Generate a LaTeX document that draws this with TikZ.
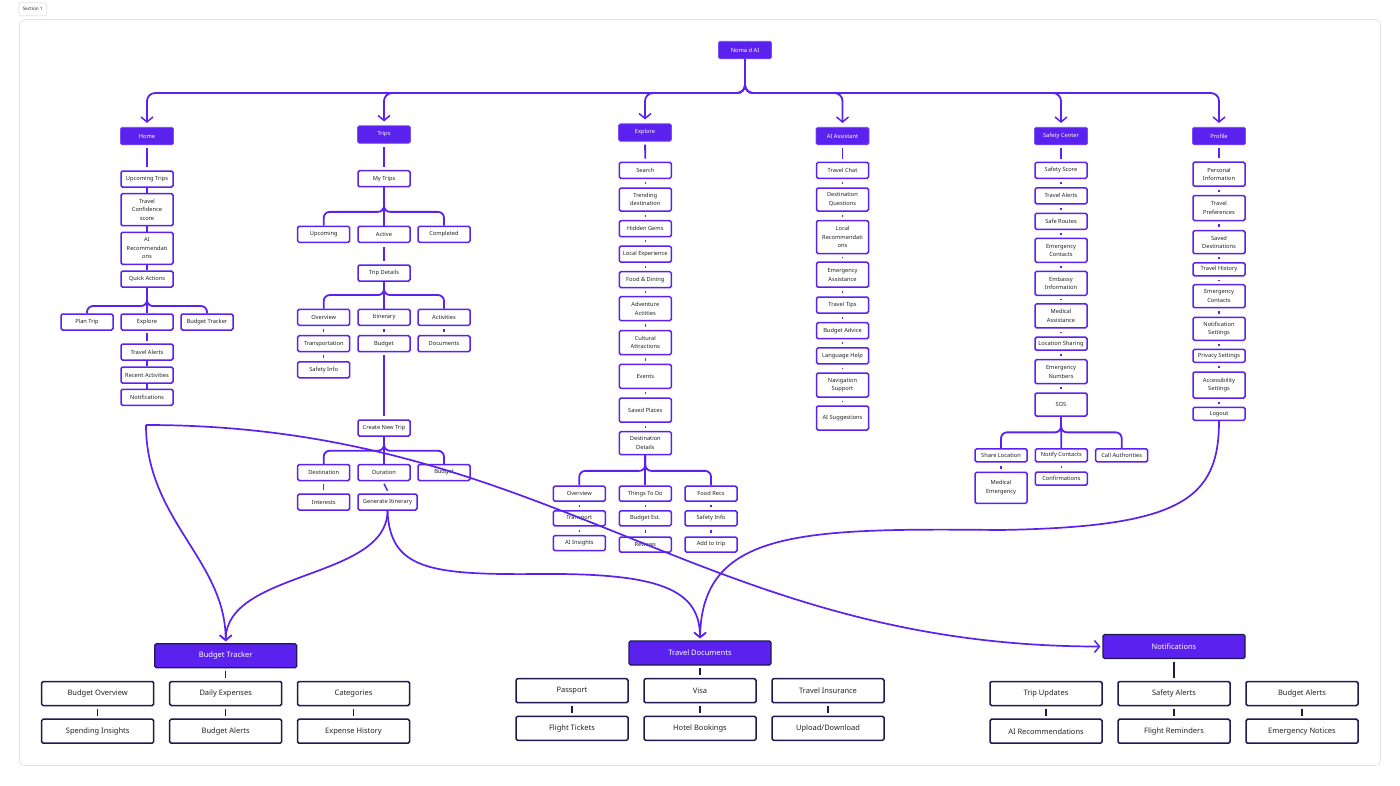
\documentclass[tikz,border=0pt]{standalone}
\usepackage{fontspec}
\setmainfont{Noto Sans}
\usetikzlibrary{arrows.meta}
\definecolor{pur}{HTML}{5B21EE}
\definecolor{purl}{HTML}{7A4DF5}
\definecolor{navy}{HTML}{1E1A4F}
\definecolor{txt}{HTML}{222222}
\definecolor{framec}{HTML}{E2E2E2}
\tikzset{
 hdr/.style={fill=pur, draw=purl, line width=0.6pt, rounded corners=1.5pt, text=white, font=\fontsize{5.7}{8.6}\selectfont, minimum width=53pt, minimum height=17.5pt, inner sep=0pt},
 sub/.style={fill=white, draw=pur, line width=1.5pt, rounded corners=1.5pt, text=txt, font=\fontsize{5.7}{8.6}\selectfont, align=center, minimum width=52pt, minimum height=16pt, inner sep=0pt},
 mh/.style={minimum height=#1pt},
 mw/.style={minimum width=#1pt},
 bhdr/.style={fill=pur, draw=navy, line width=1.2pt, rounded corners=1.5pt, text=white, font=\fontsize{7.5}{9}\selectfont, minimum width=142pt, minimum height=24pt, inner sep=0pt},
 bsub/.style={fill=white, draw=navy, line width=1.5pt, rounded corners=1.5pt, text=txt, font=\fontsize{7.5}{9}\selectfont, minimum width=112pt, minimum height=24pt, inner sep=0pt},
 tree/.style={draw=pur, line width=1.8pt},
 link/.style={draw=pur, line width=1.5pt, shorten <=#1, shorten >=#1},
 link/.default=3pt,
 blink/.style={draw=navy, line width=1.5pt, shorten <=2.5pt, shorten >=2.5pt},
 arr/.style={-{Straight Barb[length=5pt,width=12pt,line width=1.5pt]}},
 curve/.style={draw=pur, line width=1.7pt, arr},
}
\begin{document}
\begin{tikzpicture}[x=1pt,y=-1pt]
\fill[white] (0,0) rectangle (1400,785);
\useasboundingbox (0,0) rectangle (1400,785);
\draw[framec, line width=0.8pt, rounded corners=5pt] (19.5,19.5) rectangle (1380.5,765.5);
\node[draw=framec, line width=0.6pt, fill=white, rounded corners=1.5pt, text=txt, font=\fontsize{4.6}{5}\selectfont, minimum width=28pt, minimum height=13pt, inner sep=0pt] (sec) at (32.7,9.2) {Section 1};

% headers
\node[hdr] (noma) at (745,50) {Noma d AI};
\node[hdr] (home) at (147,136) {Home};
\node[hdr] (trips) at (384,134.5) {Trips};
\node[hdr] (explore) at (645,132.5) {Explore};
\node[hdr] (ai) at (842.5,136) {AI Assistant};
\node[hdr] (safety) at (1061,136) {Safety Center};
\node[hdr] (profile) at (1219,136) {Profile};

% Home column
\node[sub] (h1) at (147,179) {Upcoming Trips};
\node[sub,mh=32] (h2) at (147,209.7) {Travel\\Confidence\\score};
\node[sub,mh=32] (h3) at (147,248.3) {AI\\Recommendati\\ons};
\node[sub] (h4) at (147,279) {Quick Actions};
\node[sub] (h5) at (87,322) {Plan Trip};
\node[sub] (h6) at (147,322) {Explore};
\node[sub] (h7) at (207,322) {Budget Tracker};
\node[sub] (h8) at (147,352) {Travel Alerts};
\node[sub] (h9) at (147,375) {Recent Activities};
\node[sub] (h10) at (147,397.3) {Notifications};

% Trips column
\node[sub] (t1) at (384,178.7) {My Trips};
\node[sub] (t2) at (323.7,234.3) {Upcoming};
\node[sub] (t3) at (384,234.3) {Active};
\node[sub] (t4) at (444,234.3) {Completed};
\node[sub] (t5) at (384,273) {Trip Details};
\node[sub] (t6) at (323.7,317.3) {Overview};
\node[sub] (t7) at (384,317.3) {Itinerary};
\node[sub] (t8) at (444,317.3) {Activities};
\node[sub] (t9) at (323.7,343.7) {Transportation};
\node[sub] (t10) at (384,343.7) {Budget};
\node[sub] (t11) at (444,343.7) {Documents};
\node[sub] (t12) at (323.7,369.8) {Safety Info};
\node[sub] (t13) at (384,428) {Create New Trip};
\node[sub] (t14) at (323.7,472.5) {Destination};
\node[sub] (t15) at (384,472.5) {Duration};
\node[sub] (t16) at (444,472.5) {Budget};
\node[sub] (t17) at (323.7,502) {Interests};
\node[sub,mw=59] (t18) at (387.5,502) {Generate Itinerary};

% Explore column
\node[sub] (e1) at (645.3,170.3) {Search};
\node[sub,mh=23] (e2) at (645.3,199.5) {Trending\\destination};
\node[sub] (e3) at (645.3,228.7) {Hidden Gems};
\node[sub] (e4) at (645.3,254.2) {Local Experience};
\node[sub] (e5) at (645.3,279.7) {Food \& Dining};
\node[sub,mh=24] (e6) at (645.3,308.7) {Adventure\\Actiities};
\node[sub,mh=24] (e7) at (645.3,342.5) {Cultural\\Attractions};
\node[sub,mh=24] (e8) at (645.3,376.3) {Events};
\node[sub,mh=24] (e9) at (645.3,410.2) {Saved Places};
\node[sub,mh=23] (e10) at (645.3,443.2) {Destination\\Details};
\node[sub,mh=15] (e11) at (579.3,493.7) {Overview};
\node[sub,mh=15] (e12) at (645.3,493.7) {Things To Do};
\node[sub,mh=15] (e13) at (711,493.7) {Food Recs};
\node[sub,mh=15] (e14) at (579.3,518.3) {Transport};
\node[sub,mh=15] (e15) at (645.3,518.3) {Budget Est.};
\node[sub,mh=15] (e16) at (711,518.3) {Safety Info};
\node[sub,mh=15] (e17) at (579.3,543) {AI Insights};
\node[sub,mh=15] (e18) at (645.3,544.5) {Reviews};
\node[sub,mh=15] (e19) at (711,544.5) {Add to trip};

% AI Assistant column
\node[sub] (a1) at (842.5,170.3) {Travel Chat};
\node[sub,mh=23] (a2) at (842.5,199.5) {Destination\\Questions};
\node[sub,mh=33] (a3) at (842.5,237) {Local\\Recommendati\\ons};
\node[sub,mh=25] (a4) at (842.5,274.7) {Emergency\\Assistance};
\node[sub] (a5) at (842.5,305) {Travel Tips};
\node[sub] (a6) at (842.5,330.7) {Budget Advice};
\node[sub] (a7) at (842.5,355.8) {Language Help};
\node[sub,mh=24] (a8) at (842.5,385) {Navigation\\Support};
\node[sub,mh=24] (a9) at (842.5,418) {AI Suggestions};

% Safety Center column
\node[sub] (s1) at (1061,170.3) {Safety Score};
\node[sub] (s2) at (1061,195.8) {Travel Alerts};
\node[sub] (s3) at (1061,221.3) {Safe Routes};
\node[sub,mh=24] (s4) at (1061,250.3) {Emergency\\Contacts};
\node[sub,mh=24] (s5) at (1061,283.3) {Embassy\\Information};
\node[sub,mh=24] (s6) at (1061,315.8) {Medical\\Assistance};
\node[sub,mh=13] (s7) at (1061,343.7) {Location Sharing};
\node[sub,mh=24] (s8) at (1061,371.7) {Emergency\\Numbers};
\node[sub,mh=23] (s9) at (1061,404.5) {SOS};
\node[sub,mh=13] (s10) at (1001,455.3) {Share Location};
\node[sub,mh=13] (s11) at (1061.3,455.3) {Notify Contacts};
\node[sub,mh=13] (s12) at (1121.7,455.3) {Call Authorities};
\node[sub,mh=31] (s13) at (1001,487.8) {Medical\\Emergency};
\node[sub,mh=13] (s14) at (1061.3,478.7) {Confirmations};

% Profile column
\node[sub,mh=24] (p1) at (1219,174.2) {Personal\\Information};
\node[sub,mh=25] (p2) at (1219,208) {Travel\\Preferences};
\node[sub,mh=23] (p3) at (1219,242.2) {Saved\\Destinations};
\node[sub,mh=13] (p4) at (1219,269.3) {Travel History};
\node[sub,mh=23] (p5) at (1219,296.2) {Emergency\\Contacts};
\node[sub,mh=23] (p6) at (1219,328.8) {Notification\\Settings};
\node[sub,mh=13] (p7) at (1219,355.8) {Privacy Settings};
\node[sub,mh=26] (p8) at (1219,385) {Accessibility\\Settings};
\node[sub,mh=13] (p9) at (1219,413.8) {Logout};

% Bottom sections
\node[bhdr] (bt) at (225.7,655.8) {Budget Tracker};
\node[bsub] (bt1) at (97.7,693.5) {Budget Overview};
\node[bsub] (bt2) at (225.7,693.5) {Daily Expenses};
\node[bsub] (bt3) at (353.5,693.5) {Categories};
\node[bsub] (bt4) at (97.7,731.2) {Spending Insights};
\node[bsub] (bt5) at (225.7,731.2) {Budget Alerts};
\node[bsub] (bt6) at (353.5,731.2) {Expense History};

\node[bhdr] (td) at (700,653) {Travel Documents};
\node[bsub] (td1) at (572,690.7) {Passport};
\node[bsub] (td2) at (700,690.7) {Visa};
\node[bsub] (td3) at (828,690.7) {Travel Insurance};
\node[bsub] (td4) at (572,728.3) {Flight Tickets};
\node[bsub] (td5) at (700,728.3) {Hotel Bookings};
\node[bsub] (td6) at (828,728.3) {Upload/Download};

\node[bhdr] (nt) at (1174,646.5) {Notifications};
\node[bsub] (nt1) at (1046,693.5) {Trip Updates};
\node[bsub] (nt2) at (1174,693.5) {Safety Alerts};
\node[bsub] (nt3) at (1302,693.5) {Budget Alerts};
\node[bsub] (nt4) at (1046,731.2) {AI Recommendations};
\node[bsub] (nt5) at (1174,731.2) {Flight Reminders};
\node[bsub] (nt6) at (1302,731.2) {Emergency Notices};

% top level connectors
\foreach \t in {home,trips,explore,ai,safety,profile}
  \draw[tree,arr,rounded corners=8pt] (noma.south) -- ++(0,34) -| ([yshift=4pt]\t.north);

% header to first child
\foreach \a/\b in {home/h1,trips/t1,explore/e1,ai/a1,safety/s1,profile/p1}
  \draw[tree, shorten <=3pt, shorten >=3pt] (\a) -- (\b);

% Home
\foreach \a/\b in {h1/h2,h2/h3,h3/h4,h8/h9,h9/h10}
  \draw[link=0pt] (\a) -- (\b);
\draw[link=2.5pt] (h6) -- (h8);
\draw[tree] (h4.south) -- (h6.north);
\draw[tree,rounded corners=6pt] (h4.south) -- ++(0,18.3) -| (h5.north);
\draw[tree,rounded corners=6pt] (h4.south) -- ++(0,18.3) -| (h7.north);

% Trips
\draw[tree] (t1.south) -- (t3.north);
\draw[tree,rounded corners=6pt] (t1.south) -- ++(0,24.4) -| (t2.north);
\draw[tree,rounded corners=6pt] (t1.south) -- ++(0,24.4) -| (t4.north);
\draw[tree, shorten <=3.5pt, shorten >=3.5pt] (t3) -- (t5);
\draw[tree] (t5.south) -- (t7.north);
\draw[tree,rounded corners=6pt] (t5.south) -- ++(0,13.3) -| (t6.north);
\draw[tree,rounded corners=6pt] (t5.south) -- ++(0,13.3) -| (t8.north);
\foreach \a/\b in {t6/t9,t9/t12,t7/t10,t8/t11,t14/t17}
  \draw[link] (\a) -- (\b);
\draw[tree, shorten <=3pt, shorten >=3pt] (t10) -- (t13);
\draw[tree] (t13.south) -- (t15.north);
\draw[tree,rounded corners=6pt] (t13.south) -- ++(0,14) -| (t14.north);
\draw[tree,rounded corners=6pt] (t13.south) -- ++(0,14) -| (t16.north);
\draw[link=2.5pt] (t15.south) .. controls +(0,6) and +(0,-6) .. (t18.north);

% Explore
\foreach \a/\b in {e1/e2,e2/e3,e3/e4,e4/e5,e5/e6,e6/e7,e7/e8,e8/e9,e9/e10,e11/e14,e14/e17,e12/e15,e15/e18,e13/e16,e16/e19}
  \draw[link] (\a) -- (\b);
\draw[tree] (e10.south) -- (e12.north);
\draw[tree,rounded corners=6pt] (e10.south) -- ++(0,15.4) -| (e11.north);
\draw[tree,rounded corners=6pt] (e10.south) -- ++(0,15.4) -| (e13.north);

% AI Assistant
\foreach \a/\b in {a1/a2,a2/a3,a3/a4,a4/a5,a5/a6,a6/a7,a7/a8,a8/a9}
  \draw[link] (\a) -- (\b);

% Safety Center
\foreach \a/\b in {s1/s2,s2/s3,s3/s4,s4/s5,s5/s6,s6/s7,s7/s8,s8/s9,s10/s13,s11/s14}
  \draw[link] (\a) -- (\b);
\draw[tree] (s9.south) -- (s11.north);
\draw[tree,rounded corners=6pt] (s9.south) -- ++(0,15.6) -| (s10.north);
\draw[tree,rounded corners=6pt] (s9.south) -- ++(0,15.6) -| (s12.north);

% Profile
\foreach \a/\b in {p1/p2,p2/p3,p3/p4,p4/p5,p5/p6,p6/p7,p7/p8,p8/p9}
  \draw[link] (\a) -- (\b);

% bottom links
\foreach \a/\b in {bt/bt2,bt1/bt4,bt2/bt5,bt3/bt6,td/td2,td1/td4,td2/td5,td3/td6,nt/nt2,nt1/nt4,nt2/nt5,nt3/nt6}
  \draw[blink] (\a) -- (\b);

% long curves
\coordinate (hs) at (146,425);
\coordinate (m1) at (540,574);
\coordinate (m2) at (1000,530);
\draw[curve] (hs) .. controls +(0,95) and +(0,-81) .. ([yshift=2pt]bt.north);
\draw[curve] (hs) .. controls +(404,0) and +(-400,0) .. ([xshift=-2pt]nt.west);
\draw[curve] (t18.south) .. controls +(0,69) and +(0,-71) .. ([yshift=2pt]bt.north);
\draw[curve] (t18.south) .. controls +(2.5,59) and +(-110,1) .. (m1) .. controls +(120,-1) and +(0,-49) .. ([yshift=2pt]td.north);
\draw[curve] (p9.south) .. controls +(0,79) and +(180,-3) .. (m2) .. controls +(-200,-2) and +(2,-108) .. ([yshift=2pt]td.north);
\end{tikzpicture}
\end{document}
